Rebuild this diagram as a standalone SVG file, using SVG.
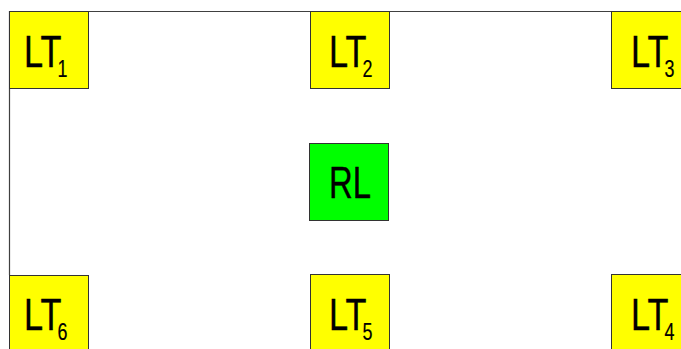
<svg xmlns="http://www.w3.org/2000/svg" width="681" height="349" viewBox="0 0 681 349">
<style>
.lt{fill:#ffff00;stroke:#333;stroke-width:1}
.rl{fill:#00ff00;stroke:#333;stroke-width:1}
.big{font-family:"Liberation Sans",Arial,sans-serif;font-size:44px;fill:#000;stroke:#000;stroke-width:0.4}
.sub{font-size:23px;stroke-width:0.2}
.conn{stroke:#404040;stroke-width:1.2;fill:none}
</style>
<rect width="681" height="349" fill="#fff"/>
<g id="connectors">
<path class="conn" d="M9.5,275 V11.5 H681"/>
</g>
<g id="LT1">
<rect class="lt" x="9.5" y="11.5" width="79" height="77"/>
<text class="big" transform="translate(24,67) scale(0.78,1)">LT<tspan class="sub" dx="-5" dy="10">1</tspan></text>
</g>
<g id="LT2">
<rect class="lt" x="310.5" y="11.5" width="79" height="77"/>
<text class="big" transform="translate(329,67) scale(0.78,1)">LT<tspan class="sub" dx="-5" dy="10">2</tspan></text>
</g>
<g id="LT3">
<rect class="lt" x="611.5" y="11.5" width="79" height="77"/>
<text class="big" transform="translate(631,67) scale(0.78,1)">LT<tspan class="sub" dx="-5" dy="10">3</tspan></text>
</g>
<g id="RL">
<rect class="rl" x="309.5" y="143.5" width="79" height="77"/>
<text class="big" x="329" y="198" textLength="42" lengthAdjust="spacingAndGlyphs">RL</text>
</g>
<g id="LT6">
<rect class="lt" x="9.5" y="275.5" width="79" height="77"/>
<text class="big" transform="translate(24,330) scale(0.78,1)">LT<tspan class="sub" dx="-5" dy="10">6</tspan></text>
</g>
<g id="LT5">
<rect class="lt" x="310.5" y="274.5" width="79" height="77"/>
<text class="big" transform="translate(329,330) scale(0.78,1)">LT<tspan class="sub" dx="-5" dy="10">5</tspan></text>
</g>
<g id="LT4">
<rect class="lt" x="611.5" y="274.5" width="79" height="77"/>
<text class="big" transform="translate(631,330) scale(0.78,1)">LT<tspan class="sub" dx="-5" dy="10">4</tspan></text>
</g>
</svg>
